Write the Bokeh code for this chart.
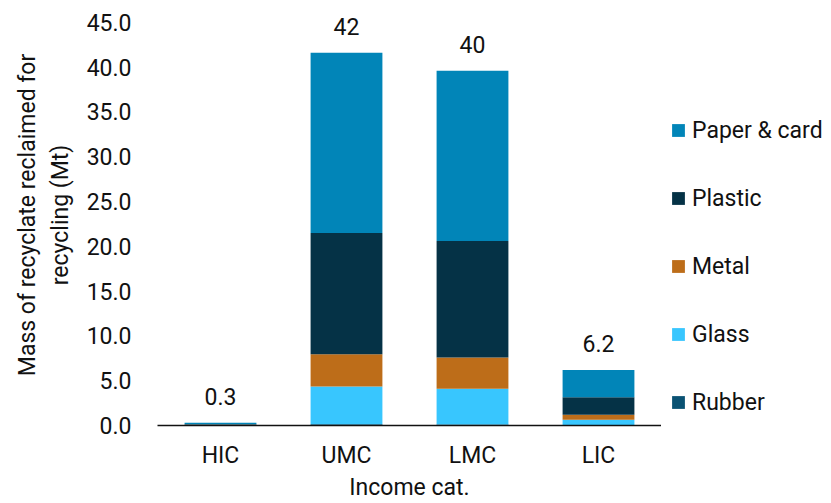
from bokeh.plotting import figure
from bokeh.layouts import row
from bokeh.models import (ColumnDataSource, FactorRange, Range1d, FixedTicker,
                          NumeralTickFormatter, Legend, LegendItem)
from bokeh.core.properties import value
from bokeh.embed import file_html
from bokeh.resources import INLINE

# Recyclate reclaimed for recycling, by income category (Mt)
categories = ["HIC", "UMC", "LMC", "LIC"]
rubber = [0.02, 0.15, 0.10, 0.05]
glass = [0.03, 4.20, 4.00, 0.60]
metal = [0.02, 3.60, 3.50, 0.55]
plastic = [0.08, 13.55, 13.00, 1.95]
paper = [0.15, 20.10, 19.00, 3.05]

materials = ["rubber", "glass", "metal", "plastic", "paper"]
material_names = {"rubber": "Rubber", "glass": "Glass", "metal": "Metal",
                  "plastic": "Plastic", "paper": "Paper & card"}
colors = {"rubber": "#0A5273", "glass": "#38C6FE", "metal": "#BD6D19",
          "plastic": "#053246", "paper": "#0185B8"}

y_ticks = [0, 5, 10, 15, 20, 25, 30, 35, 40, 45]

totals = [r + g + m + pl + pa for r, g, m, pl, pa in
          zip(rubber, glass, metal, plastic, paper)]
total_labels = ["{:.2g}".format(t) for t in totals]

FONT = "Roboto"
FS = "23px"
INK = "#111111"
NAN = float("nan")

source = ColumnDataSource(dict(cat=categories, rubber=rubber, glass=glass,
                               metal=metal, plastic=plastic, paper=paper,
                               total=totals, label=total_labels))

# a little headroom above 45 keeps the total labels inside the frame
p = figure(x_range=FactorRange(*categories), y_range=Range1d(0, 47),
           width=661, height=503, output_backend="svg", toolbar_location=None,
           min_border_left=157, min_border_right=0, min_border_top=4,
           min_border_bottom=77)
p.outline_line_color = None
p.grid.visible = False
p.background_fill_color = "white"
p.border_fill_color = "white"

renderers = p.vbar_stack(materials, x="cat", width=0.57, source=source,
                         color=[colors[m] for m in materials], line_width=0)

p.text(x="cat", y="total", text="label", source=source, y_offset=-26,
       text_align="center", text_baseline="middle", text_color=INK,
       text_font=value(FONT), text_font_size=FS)

# y axis: labels only
yax = p.yaxis[0]
yax.ticker = FixedTicker(ticks=y_ticks)
yax.formatter = NumeralTickFormatter(format="0.0")
yax.axis_line_color = None
yax.major_tick_line_color = None
yax.minor_tick_line_color = None
yax.major_label_standoff = 20
yax.major_label_text_font = FONT
yax.major_label_text_font_size = FS
yax.major_label_text_color = INK
yax.axis_label = "Mass of recyclate reclaimed for\nrecycling (Mt)"
yax.axis_label_text_font = FONT
yax.axis_label_text_font_size = FS
yax.axis_label_text_font_style = "normal"
yax.axis_label_text_color = INK
yax.axis_label_standoff = 10

xax = p.xaxis[0]
xax.axis_line_color = INK
xax.axis_line_width = 1.5
xax.major_tick_line_color = None
xax.minor_tick_line_color = None
xax.major_label_standoff = 10
xax.major_label_text_font = FONT
xax.major_label_text_font_size = FS
xax.major_label_text_color = INK
xax.axis_label = "Income cat."
xax.axis_label_text_font = FONT
xax.axis_label_text_font_size = FS
xax.axis_label_text_font_style = "normal"
xax.axis_label_text_color = INK
xax.axis_label_standoff = 2

# legend panel to the right of the bars
lg = figure(width=170, height=503, output_backend="svg", toolbar_location=None,
            x_range=Range1d(0, 1), y_range=Range1d(0, 1),
            x_axis_location=None, y_axis_location=None,
            min_border_left=0, min_border_right=0, min_border_top=0,
            min_border_bottom=0)
lg.outline_line_color = None
lg.grid.visible = False
lg.border_fill_color = "white"

# undrawn (NaN) bar renderers that only supply the legend swatches
swatches = {m: lg.vbar(x=[NAN], top=[NAN], width=0.5, fill_color=colors[m],
                       line_color=None) for m in materials}

items = [LegendItem(label=material_names[m], renderers=[swatches[m]])
         for m in materials][::-1]
legend = Legend(items=items, location=(9, 9), orientation="vertical",
                glyph_width=16, glyph_height=16, label_height=28,
                label_standoff=6, spacing=40, padding=0, margin=0,
                border_line_color=None, background_fill_alpha=0,
                label_text_font=FONT, label_text_font_size=FS,
                label_text_color=INK)
lg.add_layout(legend, "center")

layout = row(p, lg, spacing=0)
open("out.html", "w").write(file_html(layout, INLINE))
